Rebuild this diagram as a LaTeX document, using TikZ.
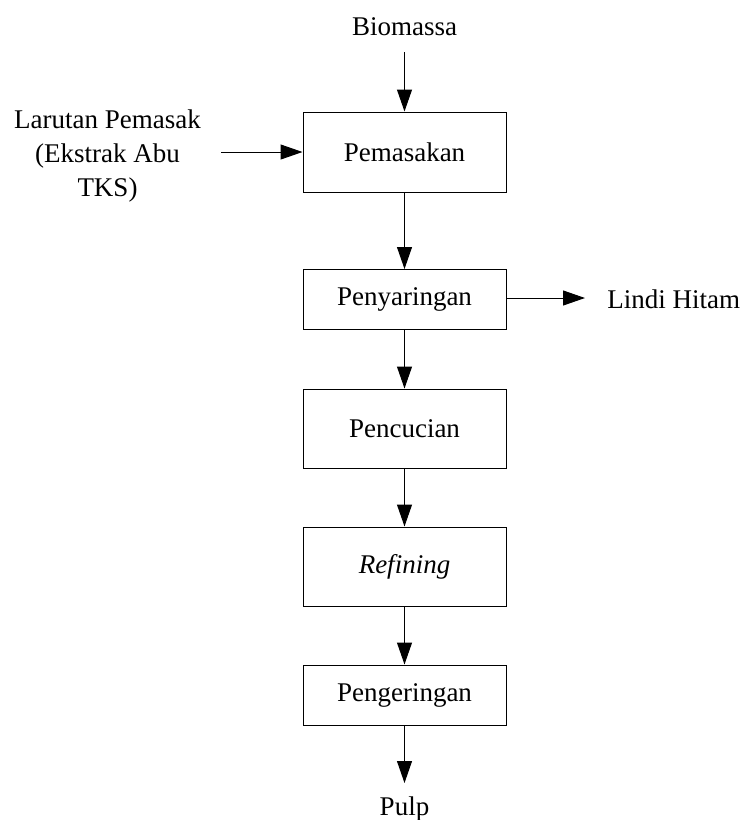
\documentclass[tikz,border=0pt]{standalone}
\usepackage{fontspec}
\setmainfont{Liberation Serif}
\usetikzlibrary{arrows.meta}
\begin{document}
\begin{tikzpicture}[x=0.5pt,y=-0.5pt,
  every node/.style={font=\fontsize{13.5}{17}\selectfont},
  procbox/.style={draw,line width=0.5pt,minimum width=101.5pt,inner sep=0pt},
  flow/.style={line width=0.5pt,-{Triangle[length=11pt,width=7.5pt]}}]
\useasboundingbox (0,0) rectangle (743,820);
\node[procbox,minimum height=40pt] (pem) at (404.5,152) {Pemasakan};
\node[procbox,minimum height=30pt] (pny) at (404.5,299.5) {Penyaringan};
\node[procbox,minimum height=39.5pt] (pcc) at (404.5,428.5) {Pencucian};
\node[procbox,minimum height=39.5pt] (ref) at (404.5,566.5) {\textit{Refining}};
\node[procbox,minimum height=30pt] (pgr) at (404.5,695) {Pengeringan};
\node[anchor=base,inner sep=0pt] (bio) at (404.5,35) {Biomassa};
\coordinate (bioS) at (404.5,52);
\node[align=center,anchor=base,inner sep=0pt] (lar) at (107.5,196) {Larutan Pemasak\\(Ekstrak Abu\\TKS)};
\coordinate (larE) at (221,152);
\node[anchor=base west,inner sep=0pt] (lin) at (607,308) {Lindi Hitam};
\coordinate (linW) at (585,298);
\node[anchor=base,inner sep=0pt] (pulp) at (404.5,815) {Pulp};
\coordinate (pulpN) at (404.5,783);
\draw[flow] (bioS) -- (pem.north);
\draw[flow] (larE) -- (pem.west |- larE);
\draw[flow] (pem) -- (pny);
\draw[flow] (pny.east |- linW) -- (linW);
\draw[flow] (pny) -- (pcc);
\draw[flow] (pcc) -- (ref);
\draw[flow] (ref) -- (pgr);
\draw[flow] (pgr.south) -- (pulpN);
\end{tikzpicture}
\end{document}
